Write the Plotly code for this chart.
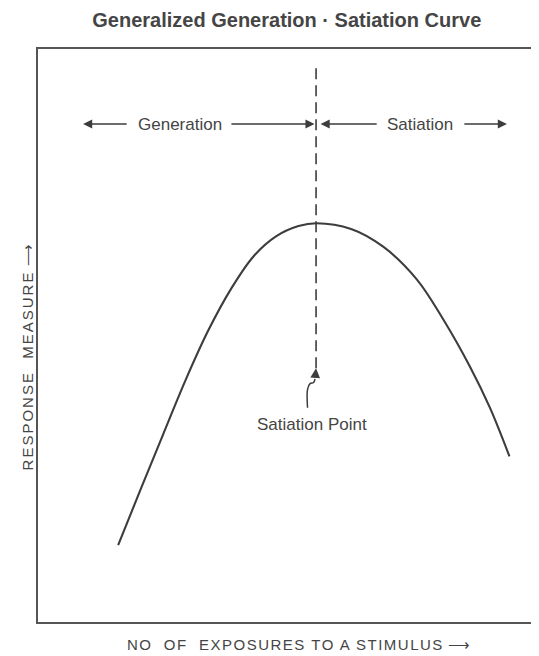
import plotly.graph_objects as go

INK = '#3d3d3d'
TEXT = '#454545'
FONT = "'Liberation Sans', Arial, sans-serif"

# curve (arbitrary units, axes 0-100)
curve_x = [16.0, 20.5, 25.0, 29.5, 34.0, 38.5, 43.0, 47.5, 52.0, 55.6, 62.5, 68.9, 75.6, 80.9, 86.2, 90.2, 94.1]
curve_y = [13.4, 23.2, 32.8, 42.3, 50.9, 58.1, 63.8, 67.3, 69.1, 69.6, 68.6, 65.5, 59.8, 52.8, 44.6, 37.4, 28.9]

satiation_x = 55.5
divider_y = [44.3, 96.9]

# region arrows at the top: (tail, tip)
arrow_row_y = 86.9
region_arrows = [(18.0, 9.0), (38.3, 55.2), (67.9, 56.4), (84.8, 93.6)]
region_labels = ['Generation', 'Satiation']
region_label_x = [28.3, 76.3]

point_label = 'Satiation Point'
point_label_xy = (54.6, 34.4)
pointer_tip_y = 44.3
squiggle_x = [53.8, 53.8, 54.3, 55.0, 55.3]
squiggle_y = [37.4, 40.6, 41.6, 41.8, 42.4]

fig = go.Figure()

fig.add_trace(go.Scatter(
    x=curve_x, y=curve_y, mode='lines',
    line=dict(color=INK, width=2.1, shape='spline', smoothing=1.0),
    hoverinfo='skip',
))
fig.add_trace(go.Scatter(
    x=[satiation_x, satiation_x], y=divider_y, mode='lines',
    line=dict(color=INK, width=1.6, dash='11px,6px'),
    hoverinfo='skip',
))
fig.add_trace(go.Scatter(
    x=squiggle_x, y=squiggle_y, mode='lines',
    line=dict(color=INK, width=1.5, shape='spline'),
    hoverinfo='skip',
))

annotations = []
for tail, tip in region_arrows:
    annotations.append(dict(
        x=tip, y=arrow_row_y, ax=tail, ay=arrow_row_y,
        xref='x', yref='y', axref='x', ayref='y',
        text='', showarrow=True, arrowhead=2, arrowsize=1.3,
        arrowwidth=1.4, arrowcolor=INK,
    ))
for lbl, lx in zip(region_labels, region_label_x):
    annotations.append(dict(
        x=lx, y=arrow_row_y, xref='x', yref='y', text=lbl, showarrow=False,
        font=dict(size=17, color=TEXT, family=FONT),
    ))
annotations.append(dict(
    x=satiation_x, y=pointer_tip_y, ax=squiggle_x[-1], ay=squiggle_y[-1],
    xref='x', yref='y', axref='x', ayref='y',
    text='', showarrow=True, arrowhead=2, arrowsize=1.3,
    arrowwidth=1.5, arrowcolor=INK,
))
annotations.append(dict(
    x=point_label_xy[0], y=point_label_xy[1], xref='x', yref='y',
    text=point_label, showarrow=False,
    font=dict(size=17, color=TEXT, family=FONT),
))
annotations.append(dict(
    x=-0.04, y=0.4625, xref='paper', yref='paper', textangle=-90,
    text='<span style="letter-spacing:2px">RESPONSE  MEASURE</span> ⟶', showarrow=False,
    font=dict(size=15, color=TEXT, family=FONT),
))
annotations.append(dict(
    x=0.519, y=-0.04, xref='paper', yref='paper', yanchor='middle',
    text='<span style="letter-spacing:1.5px">NO  OF  EXPOSURES TO A STIMULUS</span> ⟶', showarrow=False,
    font=dict(size=15, color=TEXT, family=FONT),
))

fig.update_layout(
    width=531, height=648,
    margin=dict(l=30, r=0, t=41, b=34),
    paper_bgcolor='white', plot_bgcolor='white',
    showlegend=False,
    title=dict(
        text='<b>Generalized Generation · Satiation Curve</b>',
        x=0.525, xanchor='center', y=0.981, yanchor='middle',
        font=dict(size=20, color=TEXT, family=FONT),
    ),
    annotations=annotations,
)
fig.update_xaxes(range=[0, 100], showgrid=False, zeroline=False, showticklabels=False,
                 ticks='', showline=True, linecolor='#555555', linewidth=2, mirror=True)
fig.update_yaxes(range=[0, 100], showgrid=False, zeroline=False, showticklabels=False,
                 ticks='', showline=True, linecolor='#555555', linewidth=2, mirror=False)

fig.write_html('out.html')
